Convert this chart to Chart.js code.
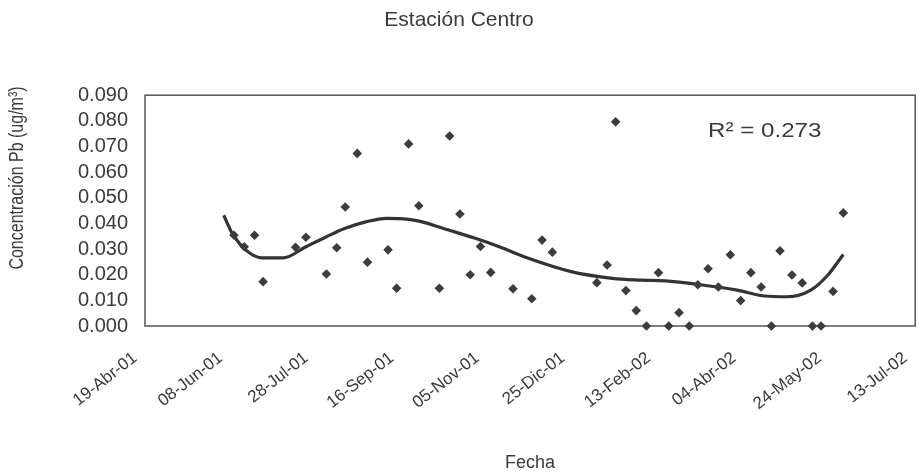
<!DOCTYPE html>
<html>
<head>
<meta charset="utf-8">
<script src="https://cdn.jsdelivr.net/npm/chart.js@4/dist/chart.umd.min.js"></script>
<style>
  body { margin: 0; background: #fff; }
  #wrap { width: 920px; height: 474px; }
</style>
</head>
<body>
<div id="wrap"><canvas id="pbChart"></canvas></div>
<script>
// muestreos de plomo, Estación Centro
const sampleDates = [
    '2001-06-10', '2001-06-16', '2001-06-22', '2001-06-27', '2001-07-16', '2001-07-22',
    '2001-08-03', '2001-08-09', '2001-08-14', '2001-08-21', '2001-08-27', '2001-09-08',
    '2001-09-13', '2001-09-20', '2001-09-26', '2001-10-08', '2001-10-14', '2001-10-20',
    '2001-10-26', '2001-11-01', '2001-11-07', '2001-11-20', '2001-12-01', '2001-12-07',
    '2001-12-13', '2002-01-08', '2002-01-14', '2002-01-19', '2002-01-25', '2002-01-31',
    '2002-02-06', '2002-02-13', '2002-02-19', '2002-02-25', '2002-03-03', '2002-03-08',
    '2002-03-14', '2002-03-20', '2002-03-27', '2002-04-02', '2002-04-08', '2002-04-14',
    '2002-04-20', '2002-04-25', '2002-05-02', '2002-05-08', '2002-05-14', '2002-05-19',
    '2002-05-26', '2002-06-01'
];
const pbValues = [
    0.0354, 0.0309, 0.0354, 0.0173, 0.0307, 0.0346,
    0.0203, 0.0305, 0.0464, 0.0673, 0.0249, 0.0297,
    0.0147, 0.0710, 0.0469, 0.0147, 0.0741, 0.0437,
    0.0200, 0.0310, 0.0209, 0.0145, 0.0106, 0.0335,
    0.0288, 0.0169, 0.0238, 0.0796, 0.0138, 0.0060,
    0.0000, 0.0208, 0.0000, 0.0052, 0.0000, 0.0161,
    0.0223, 0.0152, 0.0278, 0.0099, 0.0208, 0.0152,
    0.0000, 0.0293, 0.0199, 0.0168, 0.0000, 0.0000,
    0.0135, 0.0441
];

// línea de tendencia (polinómica)
const trendDates = [
    '2001-06-04', '2001-06-09', '2001-06-17', '2001-06-26', '2001-07-09', '2001-07-22',
    '2001-08-03', '2001-08-14', '2001-08-26', '2001-09-07', '2001-09-20', '2001-09-28',
    '2001-10-10', '2001-10-29', '2001-11-12', '2001-11-29', '2001-12-24', '2002-01-17',
    '2002-02-03', '2002-02-19', '2002-03-08', '2002-03-31', '2002-04-16', '2002-04-29',
    '2002-05-13', '2002-05-23', '2002-06-01'
];
const trendValues = [
    0.0432, 0.0361, 0.0296, 0.0266, 0.0266, 0.0309,
    0.0348, 0.0381, 0.0406, 0.0420, 0.0416, 0.0406,
    0.0381, 0.0342, 0.0309, 0.0264, 0.0212, 0.0186,
    0.0179, 0.0175, 0.0162, 0.0140, 0.0117, 0.0114,
    0.0140, 0.0199, 0.0279
];

const xTickLabels = ['19-Abr-01', '08-Jun-01', '28-Jul-01', '16-Sep-01', '05-Nov-01',
                     '25-Dic-01', '13-Feb-02', '04-Abr-02', '24-May-02', '13-Jul-02'];
const xStart = '2001-04-19';
const xEnd = '2002-07-13';
const stepDays = 50;
const rSquared = '0.273';

const DAY = 86400000;
const toXY = (dates, vals) => dates.map((d, i) => ({ x: Date.parse(d), y: vals[i] }));

const txt = '#3a3a3a';
const fam = "'Liberation Sans', Arial, sans-serif";

const extras = {
    id: 'extras',
    beforeDatasetsDraw(chart) {
        const { ctx, chartArea: a } = chart;
        ctx.save();
        ctx.strokeStyle = '#555';
        ctx.lineWidth = 1.5;
        ctx.strokeRect(a.left, a.top, a.right - a.left, a.bottom - a.top);
        ctx.restore();
    },
    afterDraw(chart) {
        const { ctx, chartArea: a } = chart;
        ctx.save();
        ctx.fillStyle = txt;
        // título eje Y
        ctx.font = '16px ' + fam;
        ctx.textAlign = 'center';
        ctx.textBaseline = 'middle';
        ctx.translate(17, 178);
        ctx.scale(1.3, 1);
        ctx.rotate(-Math.PI / 2);
        ctx.fillText('Concentración Pb (ug/m³)', 0, 0);
        ctx.restore();

        ctx.save();
        ctx.fillStyle = txt;
        ctx.font = '21px ' + fam;
        ctx.textAlign = 'left';
        ctx.textBaseline = 'alphabetic';
        ctx.translate(a.left + 563, a.top + 42);
        ctx.scale(1.15, 1);
        ctx.fillText('R² = ' + rSquared, 0, 0);
        ctx.restore();
    }
};

const ctx = document.getElementById('pbChart').getContext('2d');
const pbChart = new Chart(ctx, {
    type: 'scatter',
    data: {
        datasets: [{
            label: 'Pb',
            data: toXY(sampleDates, pbValues),
            pointStyle: 'rectRot',
            pointRadius: 4.8,
            pointBackgroundColor: '#3c3c3c',
            pointBorderColor: '#3c3c3c',
            pointBorderWidth: 0,
            clip: false
        }, {
            type: 'line',
            label: 'Tendencia',
            data: toXY(trendDates, trendValues),
            borderColor: '#333',
            borderWidth: 3.2,
            pointRadius: 0,
            tension: 0.4,
            cubicInterpolationMode: 'monotone',
            fill: false,
            clip: false
        }]
    },
    options: {
        responsive: true,
        maintainAspectRatio: false,
        animation: false,
        layout: { padding: { left: 0, right: 2, top: 0, bottom: 0 } },
        plugins: {
            legend: { display: false },
            tooltip: { enabled: false },
            title: {
                display: true,
                text: 'Estación Centro',
                color: txt,
                font: { size: 21, family: fam, weight: 'normal' },
                padding: { top: 8, bottom: 62 }
            }
        },
        scales: {
            x: {
                type: 'linear',
                min: Date.parse(xStart),
                max: Date.parse(xEnd),
                grid: { display: false, drawTicks: false },
                border: { display: false },
                ticks: {
                    stepSize: stepDays * DAY,
                    autoSkip: false,
                    minRotation: 38,
                    maxRotation: 38,
                    padding: 22,
                    labelOffset: -10,
                    color: txt,
                    font: { size: 17, family: fam },
                    callback: (v, i) => xTickLabels[i]
                },
                title: {
                    display: true,
                    text: 'Fecha',
                    color: txt,
                    font: { size: 18, family: fam },
                    padding: { top: 0, bottom: 0 }
                },
                afterFit(scale) {
                    scale.height = 148;
                    scale.paddingLeft = 0;
                    scale.paddingRight = 0;
                }
            },
            y: {
                min: 0,
                max: 0.09,
                grid: { display: false, drawTicks: false },
                border: { display: false },
                ticks: {
                    stepSize: 0.01,
                    autoSkip: false,
                    padding: 17,
                    color: txt,
                    font: { size: 20, family: fam },
                    callback: v => v.toFixed(3)
                },
                afterFit(scale) {
                    scale.width = 145;
                    scale.paddingTop = 0;
                    scale.paddingBottom = 0;
                }
            }
        }
    },
    plugins: [extras]
});
</script>
</body>
</html>
